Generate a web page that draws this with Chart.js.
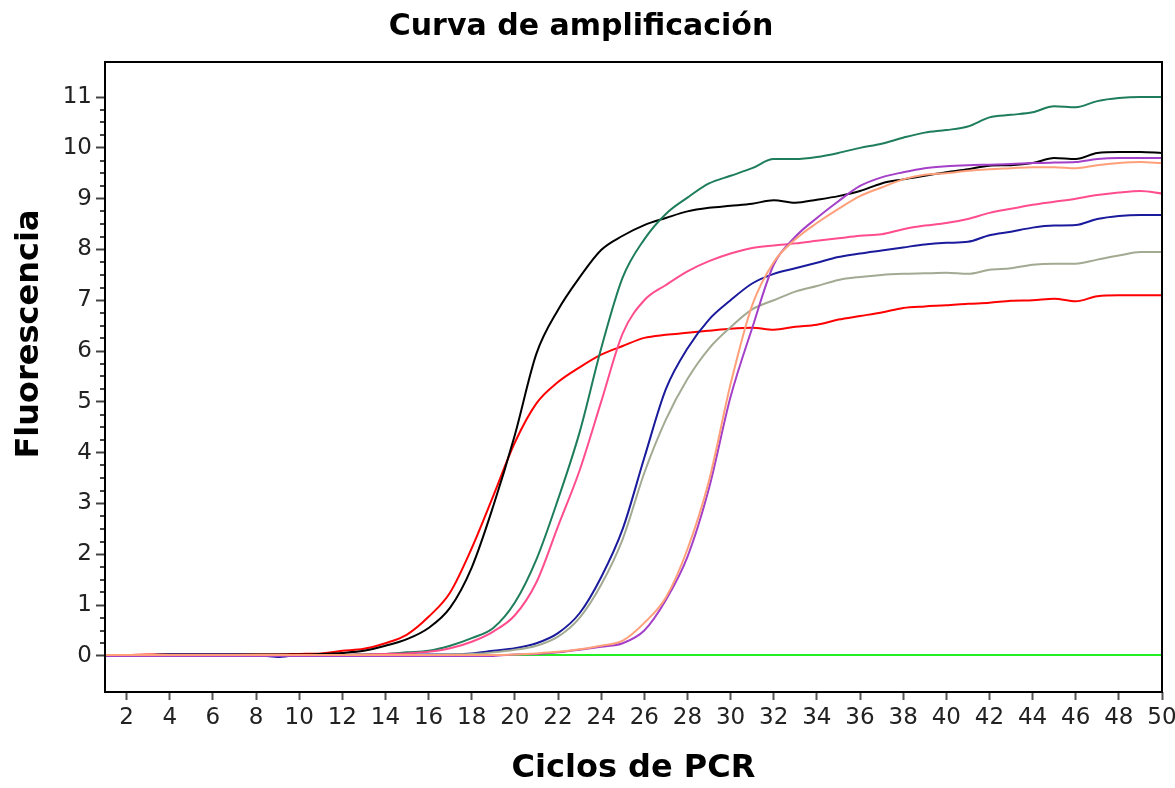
<!DOCTYPE html>
<html>
<head>
<meta charset="utf-8">
<script src="https://cdn.jsdelivr.net/npm/chart.js@4/dist/chart.umd.min.js"></script>
<style>
html, body { margin: 0; padding: 0; background: #fff; }
#wrap { width: 1175px; height: 788px; }
</style>
</head>
<body>
<div id="wrap"><canvas id="myChart"></canvas></div>
<script>
// ciclos de PCR
var cycles = [1, 2, 3, 4, 5, 6, 7, 8, 9, 10, 11, 12, 13, 14, 15, 16, 17, 18, 19, 20,
    21, 22, 23, 24, 25, 26, 27, 28, 29, 30, 31, 32, 33, 34, 35, 36, 37, 38, 39, 40,
    41, 42, 43, 44, 45, 46, 47, 48, 49, 50];
var xTicks = [2, 4, 6, 8, 10, 12, 14, 16, 18, 20, 22, 24, 26, 28, 30, 32, 34, 36, 38, 40, 42, 44, 46, 48, 50];
var yTicks = [0, 1, 2, 3, 4, 5, 6, 7, 8, 9, 10, 11];

// fluorescencia por muestra
var redData = [0.02, 0.02, 0.03, 0.03, 0.03, 0.03, 0.03, 0.03, 0.03, 0.04, 0.05,
    0.1, 0.14, 0.25, 0.42, 0.77, 1.25, 2.12, 3.15, 4.2,
    4.97, 5.39, 5.68, 5.93, 6.1, 6.26, 6.32, 6.36, 6.4, 6.44,
    6.46, 6.42, 6.48, 6.52, 6.62, 6.69, 6.76, 6.85, 6.88, 6.9,
    6.93, 6.95, 6.99, 7.0, 7.03, 6.98, 7.08, 7.1, 7.1, 7.1];
var blackData = [0.02, 0.02, 0.02, 0.03, 0.03, 0.03, 0.03, 0.03, 0.03, 0.03, 0.04,
    0.06, 0.1, 0.2, 0.33, 0.55, 0.95, 1.74, 2.95, 4.35,
    5.95, 6.81, 7.45, 7.99, 8.27, 8.48, 8.62, 8.75, 8.82, 8.86,
    8.9, 8.97, 8.92, 8.98, 9.05, 9.15, 9.3, 9.38, 9.45, 9.52,
    9.58, 9.65, 9.66, 9.7, 9.8, 9.78, 9.9, 9.92, 9.92, 9.9];
var tealData = [0.02, 0.02, 0.02, 0.02, 0.02, 0.02, 0.02, 0.02, 0.02, 0.02, 0.02,
    0.02, 0.03, 0.04, 0.07, 0.1, 0.2, 0.35, 0.55, 1.05,
    1.9, 3.08, 4.4, 6.05, 7.45, 8.2, 8.7, 9.02, 9.3, 9.45,
    9.6, 9.78, 9.78, 9.82, 9.9, 10.0, 10.08, 10.2, 10.3, 10.35,
    10.42, 10.6, 10.65, 10.7, 10.82, 10.8, 10.92, 10.98, 11.0, 11.0];
var pinkData = [0.02, 0.02, 0.02, 0.02, 0.02, 0.02, 0.02, 0.02, 0.02, 0.02, 0.02,
    0.02, 0.03, 0.04, 0.05, 0.08, 0.15, 0.28, 0.48, 0.8,
    1.45, 2.55, 3.65, 5.0, 6.35, 7.0, 7.3, 7.57, 7.77, 7.92,
    8.03, 8.08, 8.12, 8.17, 8.22, 8.27, 8.3, 8.4, 8.47, 8.52,
    8.6, 8.72, 8.8, 8.88, 8.94, 9.0, 9.07, 9.12, 9.15, 9.1];
var blueData = [0.02, 0.02, 0.02, 0.03, 0.03, 0.03, 0.03, 0.02, -0.02, 0.02, 0.02,
    0.02, 0.02, 0.02, 0.02, 0.03, 0.03, 0.05, 0.1, 0.15,
    0.25, 0.45, 0.84, 1.55, 2.5, 3.9, 5.25, 6.05, 6.62, 7.0,
    7.33, 7.52, 7.63, 7.74, 7.85, 7.92, 7.98, 8.04, 8.1, 8.13,
    8.15, 8.28, 8.35, 8.43, 8.47, 8.48, 8.6, 8.66, 8.68, 8.68];
var grayData = [0.02, 0.02, 0.02, 0.02, 0.02, 0.02, 0.02, 0.02, 0.02, 0.02, 0.02,
    0.02, 0.02, 0.02, 0.02, 0.02, 0.03, 0.04, 0.07, 0.12,
    0.2, 0.38, 0.75, 1.4, 2.3, 3.6, 4.65, 5.45, 6.05, 6.47,
    6.82, 7.0, 7.17, 7.28, 7.4, 7.46, 7.5, 7.52, 7.53, 7.54,
    7.52, 7.6, 7.63, 7.7, 7.72, 7.72, 7.8, 7.88, 7.95, 7.95];
var salmonData = [0.02, 0.02, 0.02, 0.02, 0.02, 0.02, 0.02, 0.02, 0.02, 0.02, 0.02,
    0.02, 0.02, 0.02, 0.02, 0.02, 0.02, 0.02, 0.02, 0.03,
    0.05, 0.08, 0.13, 0.2, 0.3, 0.65, 1.15, 2.1, 3.45, 5.35,
    6.9, 7.75, 8.2, 8.52, 8.8, 9.05, 9.22, 9.38, 9.47, 9.5,
    9.55, 9.58, 9.6, 9.62, 9.62, 9.6, 9.66, 9.7, 9.72, 9.7];
var purpleData = [0, 0, 0, 0, 0, 0, 0, 0, 0, 0, 0,
    0, 0, 0, 0, 0, 0, 0, 0, 0.03,
    0.04, 0.07, 0.12, 0.18, 0.25, 0.5, 1.1, 1.95, 3.3, 5.1,
    6.45, 7.7, 8.25, 8.62, 8.95, 9.25, 9.42, 9.52, 9.6, 9.64,
    9.66, 9.67, 9.68, 9.7, 9.71, 9.72, 9.78, 9.8, 9.8, 9.8];
var greenData = [0.02, 0.02, 0.02, 0.02, 0.02, 0.02, 0.02, 0.02, 0.02, 0.02,
    0.02, 0.02, 0.02, 0.02, 0.02, 0.02, 0.02, 0.02, 0.02, 0.02,
    0.02, 0.02, 0.02, 0.02, 0.02, 0.02, 0.02, 0.02, 0.02, 0.02,
    0.02, 0.02, 0.02, 0.02, 0.02, 0.02, 0.02, 0.02, 0.02, 0.02,
    0.02, 0.02, 0.02, 0.02, 0.02, 0.02, 0.02, 0.02, 0.02, 0.02];

var series = [
    { name: 'Verde', data: greenData, color: '#22f022' },
    { name: 'Rojo', data: redData, color: '#ff0000' },
    { name: 'Negro', data: blackData, color: '#000000' },
    { name: 'Verde azulado', data: tealData, color: '#1e7d5a' },
    { name: 'Rosa', data: pinkData, color: '#ff4d8d' },
    { name: 'Azul', data: blueData, color: '#1a1a9c' },
    { name: 'Gris', data: grayData, color: '#a2aa92' },
    { name: 'Morado', data: purpleData, color: '#a43fc8' },
    { name: 'Salmón', data: salmonData, color: '#ffa07a' }
];

var tickFont = { family: 'DejaVu Sans', size: 23 };
var yTitle = 'Fluorescencia';

// marco del grafico, marcas menores del eje Y y titulo del eje Y
const framePlugin = {
    id: 'frame',
    afterDraw(chart) {
        const { ctx, chartArea: a, scales: { y } } = chart;
        ctx.save();
        ctx.strokeStyle = '#444';
        ctx.lineWidth = 2;
        for (let v = 0; v <= 11; v += 0.25) {
            if (v % 1 === 0) continue;
            const py = Math.round(y.getPixelForValue(v));
            ctx.beginPath();
            ctx.moveTo(a.left - 5, py);
            ctx.lineTo(a.left, py);
            ctx.stroke();
        }
        ctx.strokeStyle = '#000';
        ctx.lineWidth = 2;
        ctx.strokeRect(a.left, a.top, a.right - a.left, a.bottom - a.top);

        ctx.translate(38, 334);
        ctx.rotate(-Math.PI / 2);
        ctx.fillStyle = '#000';
        ctx.font = 'bold 32px "DejaVu Sans"';
        ctx.textAlign = 'center';
        ctx.textBaseline = 'alphabetic';
        ctx.fillText(yTitle, 0, 0);
        ctx.restore();
    }
};

const ctx = document.getElementById('myChart').getContext('2d');
const myChart = new Chart(ctx, {
    type: 'line',
    data: {
        datasets: series.map(function (s) {
            return {
                label: s.name,
                data: cycles.map(function (c, i) { return { x: c, y: s.data[i] }; }),
                borderColor: s.color,
                backgroundColor: s.color,
                borderWidth: 2,
                pointRadius: 0,
                cubicInterpolationMode: 'monotone',
                fill: false
            };
        }).reverse()
    },
    options: {
        responsive: true,
        maintainAspectRatio: false,
        animation: false,
        layout: { autoPadding: false, padding: { top: 0, right: 13, bottom: 0, left: 0 } },
        plugins: {
            legend: { display: false },
            tooltip: { enabled: false },
            title: {
                display: true,
                text: 'Curva de amplificación',
                color: '#000',
                font: { family: 'DejaVu Sans', size: 30, weight: 'bold' },
                padding: { top: 9, bottom: 17 }
            }
        },
        scales: {
            x: {
                type: 'linear',
                min: 1,
                max: 50,
                afterBuildTicks: function (s) { s.ticks = xTicks.map(function (v) { return { value: v }; }); },
                afterFit: function (s) { s.height = 96; s.paddingLeft = 0; s.paddingRight = 0; },
                ticks: { color: '#222', font: tickFont, padding: 4, maxRotation: 0, autoSkip: false },
                grid: { drawOnChartArea: false, drawTicks: true, tickLength: 8, tickColor: '#555', tickWidth: 2 },
                border: { display: false },
                title: {
                    display: true,
                    text: 'Ciclos de PCR',
                    color: '#000',
                    font: { family: 'DejaVu Sans', size: 32, weight: 'bold' },
                    padding: { top: 0, bottom: 0 }
                }
            },
            y: {
                min: -0.71,
                max: 11.69,
                afterBuildTicks: function (s) { s.ticks = yTicks.map(function (v) { return { value: v }; }); },
                afterFit: function (s) { s.width = 105; },
                ticks: { color: '#222', font: tickFont, padding: 4 },
                grid: { drawOnChartArea: false, drawTicks: true, tickLength: 9, tickColor: '#444', tickWidth: 2 },
                border: { display: false }
            }
        }
    },
    plugins: [framePlugin]
});
</script>
</body>
</html>
